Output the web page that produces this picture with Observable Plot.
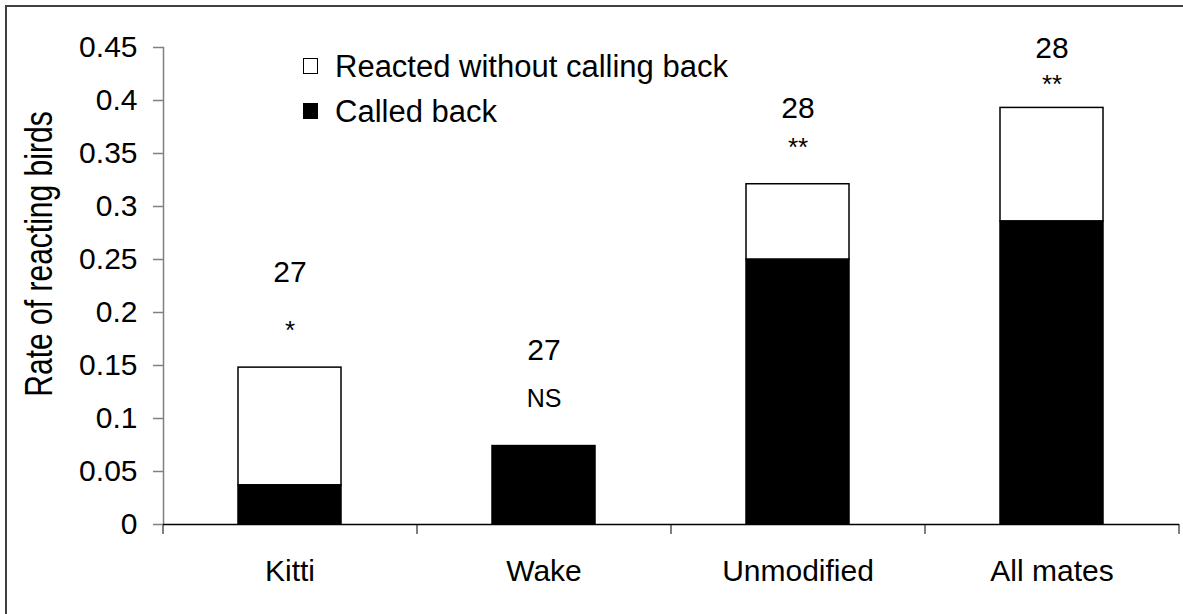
<!DOCTYPE html>
<html><head><meta charset="utf-8">
<script src="https://cdn.jsdelivr.net/npm/d3@7"></script>
<script src="https://cdn.jsdelivr.net/npm/@observablehq/plot@0.6"></script>
<style>
html,body{margin:0;padding:0;background:#fff;overflow:hidden}
#wrap{position:relative;width:1183px;height:614px;font-family:"Liberation Sans",Arial,Helvetica,sans-serif;color:#000;overflow:hidden}
#frame{position:absolute;left:5px;top:5px;width:2000px;height:2000px;border:2px solid #404040;box-sizing:border-box}
#chart{position:absolute;left:0;top:0}
.leg{position:absolute;font-size:31px;line-height:31px;white-space:nowrap}
.sw{position:absolute;width:15px;height:16px;box-sizing:border-box;border:1px solid #000}
#ytitle{position:absolute;left:39px;top:253.5px;font-size:38px;line-height:38px;white-space:nowrap;transform:translate(-50%,-50%) rotate(-90deg) scaleX(0.79)}
</style></head>
<body>
<div id="wrap">
  <div id="frame"></div>
  <div id="chart"></div>
  <div id="ytitle"></div>
  <div id="legend"></div>
</div>
<script>
// ---- data ----
const categories = ["Kitti", "Wake", "Unmodified", "All mates"];
const calledBack = [0.037, 0.074, 0.25, 0.286];
const reactedWithout = [0.111, 0, 0.071, 0.107];
const counts = [27, 27, 28, 28];
const significance = ["*", "NS", "**", "**"];
const seriesNames = ["Called back", "Reacted without calling back"];
const yTicks = [0, 0.05, 0.1, 0.15, 0.2, 0.25, 0.3, 0.35, 0.4, 0.45];
const yTickLabels = ["0", "0.05", "0.1", "0.15", "0.2", "0.25", "0.3", "0.35", "0.4", "0.45"];
const yTitle = "Rate of reacting birds";

// ---- layout ----
const W = 1183, H = 614;
const mTop = 47, mBottom = 90, mLeft = 163, mRight = 4;
const countDy = [-95, -96, -76, -60];
const sigDy = [-36.5, -47, -36.5, -23.5];
const sigSize = [26, 25, 26, 26];
const FONT = '"Liberation Sans", Arial, Helvetica, sans-serif';

const rows = [];
categories.forEach((c, i) => {
  rows.push({category: c, series: seriesNames[0], value: calledBack[i]});
  rows.push({category: c, series: seriesNames[1], value: reactedWithout[i]});
});
const bars = rows.filter(d => d.value > 0);
const totals = categories.map((c, i) => ({category: c, total: calledBack[i] + reactedWithout[i], count: counts[i], sig: significance[i]}));

const step = (W - mLeft - mRight) / categories.length;
const plotH = H - mTop - mBottom;

const marks = [
  Plot.barY(bars, {x: "category", y: "value", fill: "series", stroke: "#000", strokeWidth: 1.5}),
  Plot.frame({anchor: "left", stroke: "#808080", strokeWidth: 1.5}),
  Plot.tickX(categories, {x: d => d, dx: -step / 2, stroke: "#555", strokeWidth: 1.5, insetTop: plotH, insetBottom: -10}),
  Plot.tickX([categories[categories.length - 1]], {x: d => d, dx: step / 2, stroke: "#555", strokeWidth: 1.5, insetTop: plotH, insetBottom: -10}),
  Plot.ruleY([0], {stroke: "#000", strokeWidth: 1.5}),
  Plot.axisY({ticks: yTicks, tickFormat: d => yTickLabels[yTicks.indexOf(d)], tickSize: 10, tickPadding: 16, fontSize: 30, stroke: "#808080", strokeWidth: 1.5, label: null}),
  Plot.axisX({tickSize: 0, tickPadding: 35, fontSize: 30, label: null})
];
totals.forEach((d, i) => {
  marks.push(Plot.text([d], {x: "category", y: "total", text: d => String(d.count), dy: countDy[i], fontSize: 30, lineAnchor: "middle"}));
  marks.push(Plot.text([d], {x: "category", y: "total", text: d => d.sig, dy: sigDy[i], fontSize: sigSize[i], lineAnchor: "middle"}));
});

const chart = Plot.plot({
  width: W, height: H,
  marginTop: mTop, marginBottom: mBottom, marginLeft: mLeft, marginRight: mRight,
  style: {background: "transparent", fontFamily: FONT, color: "#000", overflow: "visible"},
  x: {domain: categories, paddingInner: 0.594, paddingOuter: 0.297, axis: null},
  y: {domain: [0, 0.45], axis: null},
  color: {domain: seriesNames, range: ["#000000", "#ffffff"]},
  marks
});
document.getElementById("chart").appendChild(chart);

document.getElementById("ytitle").textContent = yTitle;

// legend (order as shown: reacted without first, called back second)
const legend = document.getElementById("legend");
const legItems = [
  {label: seriesNames[1], fill: "#ffffff", top: 50.7, swTop: 58},
  {label: seriesNames[0], fill: "#000000", top: 95.7, swTop: 103}
];
legItems.forEach(it => {
  const sw = document.createElement("div");
  sw.className = "sw";
  sw.style.left = "303px"; sw.style.top = it.swTop + "px"; sw.style.background = it.fill;
  legend.appendChild(sw);
  const t = document.createElement("div");
  t.className = "leg";
  t.style.left = "335px"; t.style.top = it.top + "px";
  t.textContent = it.label;
  legend.appendChild(t);
});
</script>
</body></html>
